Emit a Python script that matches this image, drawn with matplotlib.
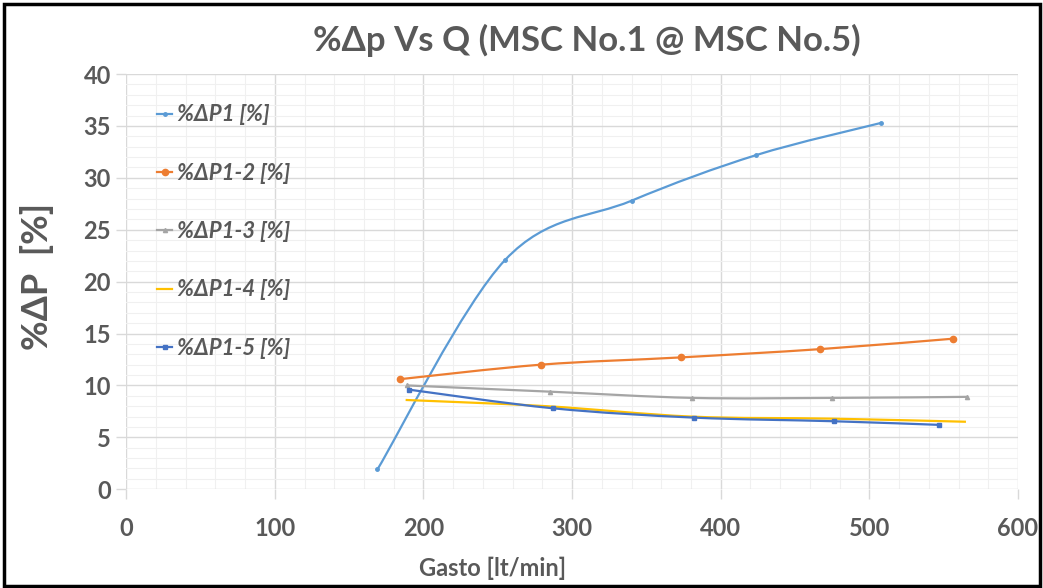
import numpy as np
import matplotlib
matplotlib.use("Agg")
import matplotlib.pyplot as plt
from matplotlib.path import Path
from matplotlib.patches import PathPatch, Rectangle
from matplotlib.lines import Line2D
from matplotlib import ticker

# data
q_p1 = [169, 255, 340, 424, 508]
dp_p1 = [1.9, 22.1, 27.8, 32.2, 35.3]

q_p12 = [184, 279, 373, 467, 556]
dp_p12 = [10.6, 12.0, 12.7, 13.5, 14.5]

q_p13 = [189, 285, 381, 475, 566]
dp_p13 = [10.0, 9.4, 8.8, 8.8, 8.9]

q_p14 = [188, 283, 380, 475, 565]
dp_p14 = [8.6, 8.0, 7.0, 6.8, 6.5]

q_p15 = [190, 287, 382, 476, 547]
dp_p15 = [9.6, 7.8, 6.9, 6.55, 6.2]

labels = ["%ΔP1 [%]", "%ΔP1-2 [%]", "%ΔP1-3 [%]", "%ΔP1-4 [%]", "%ΔP1-5 [%]"]
colors = ["#5B9BD5", "#ED7D31", "#A5A5A5", "#FFC000", "#4472C4"]
markers = ["o", "o", "^", None, "s"]
msizes = [2.5, 4.5, 3, 0, 3]

FONT = "Lato"
GREY = "#595959"


def smooth_path(x, y):
    # Excel-like smoothed line: Catmull-Rom as cubic bezier segments
    x = np.asarray(x, float)
    y = np.asarray(y, float)
    pts = np.column_stack([x, y])
    n = len(pts)
    verts = [pts[0]]
    codes = [Path.MOVETO]
    for i in range(n - 1):
        p0 = pts[i - 1] if i > 0 else pts[i]
        p1 = pts[i]
        p2 = pts[i + 1]
        p3 = pts[i + 2] if i + 2 < n else pts[i + 1]
        c1 = p1 + (p2 - p0) / 6.0
        c2 = p2 - (p3 - p1) / 6.0
        verts += [c1, c2, p2]
        codes += [Path.CURVE4] * 3
    return Path(verts, codes)


fig = plt.figure(figsize=(10.43, 5.88), dpi=100)
ax = fig.add_axes([0.121, 0.168, 0.855, 0.706])

series = [(q_p1, dp_p1), (q_p12, dp_p12), (q_p13, dp_p13), (q_p14, dp_p14), (q_p15, dp_p15)]
handles = []
for (xs, ys), lab, c, m, ms in zip(series, labels, colors, markers, msizes):
    ax.add_patch(PathPatch(smooth_path(xs, ys), facecolor="none", edgecolor=c, lw=1.6, zorder=3))
    if m is not None:
        ax.plot(xs, ys, ls="none", marker=m, ms=ms, color=c, zorder=4)
    handles.append(Line2D([], [], color=c, lw=1.6, marker=m, ms=ms))

ax.set_xlim(0, 600)
ax.set_ylim(0, 40)
ax.xaxis.set_major_locator(ticker.MultipleLocator(100))
ax.xaxis.set_minor_locator(ticker.MultipleLocator(20))
ax.yaxis.set_major_locator(ticker.MultipleLocator(5))
ax.yaxis.set_minor_locator(ticker.MultipleLocator(1))
ax.grid(which="major", color="#D9D9D9", lw=1.0)
ax.grid(which="minor", color="#F0F0F0", lw=0.8)
ax.set_axisbelow(True)
for s in ax.spines.values():
    s.set_visible(False)
ax.tick_params(which="major", length=7, width=1.0, color="#D9D9D9",
               labelsize=17, labelcolor=GREY)
ax.tick_params(axis="x", which="major", pad=13)
ax.tick_params(axis="y", which="major", pad=4)
ax.tick_params(which="minor", length=0)
for t in ax.get_xticklabels() + ax.get_yticklabels():
    t.set_fontfamily(FONT)
    t.set_fontweight("bold")

ax.set_xlabel("Gasto [lt/min]", fontsize=17, fontweight="bold", color=GREY, family=FONT)
ax.xaxis.label.set_va("center")
ax.xaxis.set_label_coords(0.411, -0.19)
ax.set_ylabel("%ΔP  [%]", fontsize=26, fontweight="bold", color=GREY, family=FONT)
ax.yaxis.label.set_va("center")
ax.yaxis.set_label_coords(-0.10, 0.513)
fig.text(0.563, 0.932, "%Δp Vs Q (MSC No.1 @ MSC No.5)", ha="center", va="center",
         fontsize=25, fontweight="bold", color=GREY, family=FONT)

leg = ax.legend(handles, labels, loc="upper left", bbox_to_anchor=(0.012, 0.975),
                frameon=False, labelspacing=1.68, handlelength=0.7, handletextpad=0.2,
                prop={"family": FONT, "size": 16, "style": "italic", "weight": "bold"})
for t in leg.get_texts():
    t.set_color(GREY)

fig.patches.append(Rectangle((0.004, 0.003), 0.993, 0.99, transform=fig.transFigure,
                             fill=False, edgecolor="black", lw=2.5))

plt.savefig("out.png", dpi=100)
